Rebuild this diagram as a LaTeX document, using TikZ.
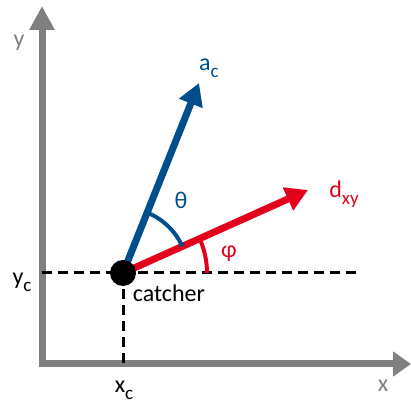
\documentclass[tikz,border=0pt]{standalone}
\usepackage{fontspec}
\setsansfont{Carlito}
\usetikzlibrary{arrows.meta}
\definecolor{cblue}{HTML}{004F8C}
\definecolor{cred}{HTML}{E3001B}
\definecolor{cgrey}{HTML}{808080}
\newcommand{\lowsub}[1]{\raisebox{-0.6ex}{\fontsize{19}{22}\selectfont #1}}
\tikzset{
  every picture/.style={font=\sffamily\fontsize{24}{28}\selectfont},
  axis/.style={draw=cgrey, line width=7pt, line join=miter, {Triangle[length=24pt, width=24pt]}-{Triangle[length=18pt, width=24pt]}},
  vec/.style={draw=#1, line width=7pt, -{Triangle[length=22pt, width=24pt]}},
  guide/.style={draw=black, line width=3pt, dash pattern=on 10pt off 6pt},
  angle arc/.style={draw=#1, line width=4pt},
  lbl/.style={text=#1, inner sep=0pt},
  lbl/.default=black,
}

\begin{document}
\begin{tikzpicture}[x=1pt, y=1pt]
  \useasboundingbox (0,0) rectangle (411,403);
  % axes
  \coordinate (origin) at (42,39);
  \coordinate (ytip) at (42,397);
  \coordinate (xtip) at (411,39);
  \draw[axis] (ytip) -- (origin) -- (xtip);
  \node[lbl=cgrey] (ylabel) at (19,360) {y};
  \node[lbl=cgrey] (xlabel) at (383,17) {x};
  % catcher position
  \coordinate (catcherpos) at (123,130);
  \coordinate (guideend) at (356,130);
  \draw[guide] (origin |- catcherpos) -- (guideend);
  \draw[guide] (catcherpos) -- (catcherpos |- origin);
  \node[lbl] (xc) at (124,13) {x\lowsub{c}};
  \node[lbl] (yc) at (22,121) {y\lowsub{c}};
  % vectors
  \coordinate (actip) at (199,320);
  \coordinate (dtip) at (308,213);
  \draw[vec=cblue] (catcherpos) -- (actip);
  \draw[vec=cred] (catcherpos) -- (dtip);
  \node[lbl=cblue] (aclabel) at (209,335) {a\lowsub{c}};
  \node[lbl=cred] (dlabel) at (344,209) {d\lowsub{xy}};
  % angles
  \draw[angle arc=cblue] ([shift={(24.2:65)}]catcherpos) arc[start angle=24.2, end angle=68.2, radius=65];
  \draw[angle arc=cred] ([shift={(0:84)}]catcherpos) arc[start angle=0, end angle=24.2, radius=84];
  \node[lbl=cblue] (theta) at (181,203) {θ};
  \node[lbl=cred] (phi) at (229,149) {φ};
  \node[circle, fill=black, minimum size=26pt, inner sep=0pt] (catcher) at (catcherpos) {};
  \node[lbl] (catchername) at (169,110) {catcher};
\end{tikzpicture}
\end{document}
